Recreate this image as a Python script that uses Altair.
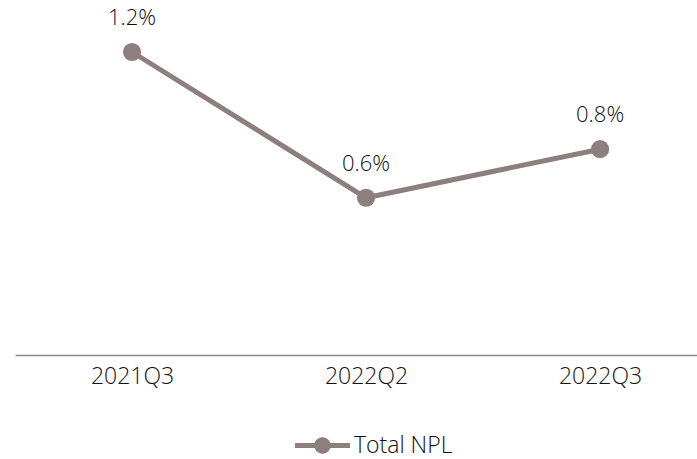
import altair as alt
import pandas as pd

quarters = ["2021Q3", "2022Q2", "2022Q3"]
npl = [1.2, 0.6, 0.8]
series = ["Total NPL", "Total NPL", "Total NPL"]

df = pd.DataFrame({"quarter": quarters, "npl": npl, "series": series})
df["label"] = [f"{v:.1f}%" for v in df["npl"]]

COLOR = "#8c7f7d"
FONT = "Open Sans"

legend_shape = ("M-1,-0.09 L1,-0.09 L1,0.09 L-1,0.09 Z "
                "M-0.3,0 A0.3,0.3 0 1,1 0.3,0 A0.3,0.3 0 1,1 -0.3,0 Z")

x = alt.X("quarter:N", sort=quarters, title=None,
          scale=alt.Scale(type="point", padding=0.457, align=0.547),
          axis=alt.Axis(labelAngle=0, ticks=False, labelFontSize=23, labelFont=FONT,
                        labelFontWeight=300,
                        labelColor="#111111", labelPadding=10,
                        domainColor="#8a8a8a", domainWidth=1.5))
y = alt.Y("npl:Q", title=None, scale=alt.Scale(domain=[-0.047, 1.414], nice=False, zero=False),
          axis=None)

base = alt.Chart(df)

line = base.mark_line(strokeWidth=5).encode(
    x=x, y=y,
    color=alt.Color("series:N", scale=alt.Scale(range=[COLOR]), title=None,
                    legend=alt.Legend(orient="none", legendX=280, legendY=418,
                                      symbolType=legend_shape, symbolSize=3025,
                                      symbolFillColor=COLOR, symbolStrokeWidth=0,
                                      labelFontSize=23, labelFont=FONT, labelFontWeight=300,
                                      labelColor="#111111",
                                      labelOffset=4, padding=0)))
points = base.mark_point(filled=True, size=330, opacity=1, color=COLOR).encode(x=x, y=y)
labels = base.mark_text(dy=-34, fontSize=22, font=FONT, fontWeight=300, color="#111111").encode(
    x=x, y=y, text="label:N")

chart = (line + points + labels).properties(
    width=682, height=355,
    autosize=alt.AutoSizeParams(type="none"),
    padding={"left": 15, "top": 0, "right": 0, "bottom": 104},
).configure_view(stroke=None)

chart.save("out.html", embed_options={"renderer": "svg", "actions": False})
